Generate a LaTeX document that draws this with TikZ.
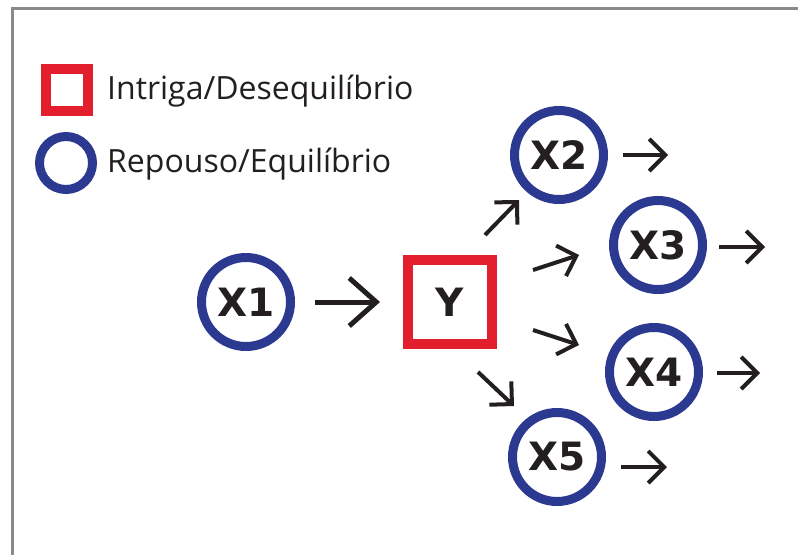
\documentclass[tikz,border=0pt]{standalone}
\usepackage{fontspec}
\setmainfont{Open Sans}
\newfontfamily\boldfont{DejaVu Sans}[BoldFont={DejaVu Sans Bold}]
\usetikzlibrary{arrows.meta}
\definecolor{myblue}{HTML}{2B3990}
\definecolor{myred}{HTML}{E31E2D}
\definecolor{arrowgray}{HTML}{231F20}
\definecolor{framegray}{HTML}{8A8A8A}
\tikzset{
  state/.style={circle, draw=myblue, line width=9pt, minimum size=89pt, inner sep=0pt,
    font=\boldfont\bfseries\fontsize{39}{40}\selectfont, text=arrowgray},
  intrigue/.style={rectangle, draw=myred, line width=10pt, minimum size=84pt, inner sep=0pt,
    font=\boldfont\bfseries\fontsize{39}{40}\selectfont, text=arrowgray},
  legsq/.style={rectangle, draw=myred, line width=10pt, minimum size=42pt, inner sep=0pt},
  legcirc/.style={circle, draw=myblue, line width=9pt, minimum size=53pt, inner sep=0pt},
  legtext/.style={anchor=west, inner sep=0pt, font=\fontsize{32}{34}\selectfont, text=arrowgray},
  arr/.style={draw=arrowgray, line width=4pt, -{Straight Barb[length=16pt,width=32pt,line join=miter]}},
  bigarr/.style={draw=arrowgray, line width=5pt, -{Straight Barb[length=27pt,width=48pt,line join=miter]}},
}
\begin{document}
\begin{tikzpicture}[x=1pt,y=-1pt]
\useasboundingbox (0,0) rectangle (798,555);
\fill[white] (0,0) rectangle (798,555);
% frame
\draw[framegray, line width=3.5pt] (12.5,555) -- (12.5,8.5) -- (798,8.5);
% legend
\node[legsq] (lsq) at (67,90) {};
\node[legtext] (lt1) at (107,91) {Intriga/Desequilíbrio};
\node[legcirc] (lci) at (66,163) {};
\node[legtext] (lt2) at (107,164) {Repouso/Equilíbrio};
% nodes
\node[state] (X1) at (246,302) {X1};
\node[intrigue] (Y) at (450,302) {Y};
\node[state] (X2) at (559,155) {X2};
\node[state] (X3) at (658,245) {X3};
\node[state] (X4) at (654,372) {X4};
\node[state] (X5) at (557,457) {X5};
% X1 -> Y
\draw[bigarr, shorten <=20pt, shorten >=23pt] (X1.east) -- (Y.west);
% branching arrows
\coordinate (a2s) at (485,235); \coordinate (a2e) at (519,200);
\coordinate (a3s) at (533,270); \coordinate (a3e) at (579,255);
\coordinate (a4s) at (533,330); \coordinate (a4e) at (579,345);
\coordinate (a5s) at (478,372); \coordinate (a5e) at (514,406);
\draw[arr] (a2s) -- (a2e);
\draw[arr] (a3s) -- (a3e);
\draw[arr] (a4s) -- (a4e);
\draw[arr] (a5s) -- (a5e);
% outgoing arrows
\coordinate (o2) at (668,155);
\coordinate (o3) at (765,247);
\coordinate (o4) at (760,373);
\coordinate (o5) at (667,467);
\draw[arr, shorten <=15pt] (X2.east) -- (o2);
\draw[arr, shorten <=12pt] ([yshift=-2pt]X3.east) -- (o3);
\draw[arr, shorten <=14pt] ([yshift=-1pt]X4.east) -- (o4);
\draw[arr, shorten <=15pt] ([yshift=-10pt]X5.east) -- (o5);
\end{tikzpicture}
\end{document}
